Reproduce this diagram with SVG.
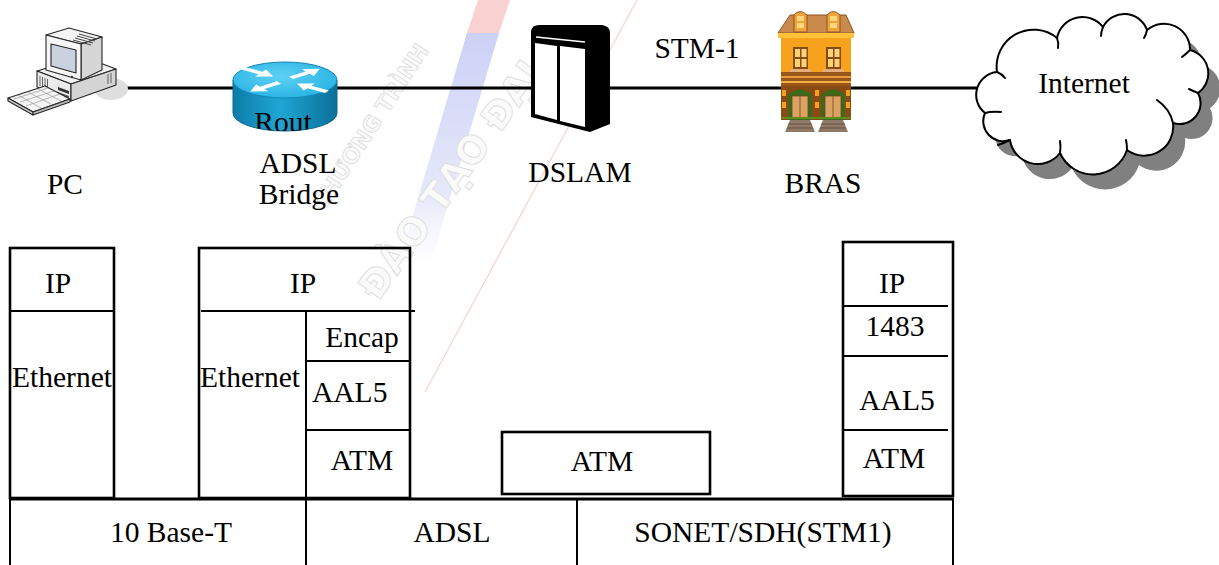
<svg xmlns="http://www.w3.org/2000/svg" xmlns:xlink="http://www.w3.org/1999/xlink" width="1219" height="565" viewBox="0 0 1219 565">
  <style>
    .lbl { font-family: "Liberation Serif", "Times New Roman", Times, "DejaVu Serif", serif; font-size: 29.5px; fill: #000; }
    .mid { text-anchor: middle; }
    .box { fill: none; stroke: #000; stroke-width: 2.6; }
    .thin { fill: none; stroke: #000; stroke-width: 2; }
    .wm { font-family: "DejaVu Sans", "Liberation Sans", sans-serif; font-weight: bold; fill: #fafafa; stroke: #dedede; stroke-width: 0.9; }
    .pcl { stroke: #262626; stroke-width: 1.1; stroke-linejoin: round; }
    .cloud { fill: #fff; stroke: #000; stroke-width: 2; stroke-linejoin: round; }
    .hook { fill: none; stroke: #000; stroke-width: 2; stroke-linecap: round; }
  </style>
  <defs>
    <linearGradient id="rtSide" x1="0" y1="0" x2="1" y2="0">
      <stop offset="0" stop-color="#0d7ca8"/>
      <stop offset="0.45" stop-color="#1fa6d4"/>
      <stop offset="1" stop-color="#0c6f99"/>
    </linearGradient>
    <radialGradient id="rtTop" cx="0.45" cy="0.4" r="0.7">
      <stop offset="0" stop-color="#5fd0f5"/>
      <stop offset="1" stop-color="#21b0e2"/>
    </radialGradient>
    <linearGradient id="bandFade" x1="0" y1="0" x2="0" y2="1">
      <stop offset="0" stop-color="#c6cbf5" stop-opacity="0.9"/>
      <stop offset="0.7" stop-color="#d2d5f6" stop-opacity="0.55"/>
      <stop offset="1" stop-color="#e4e6fa" stop-opacity="0"/>
    </linearGradient>
    <clipPath id="rtClip">
      <path d="M233,80 L233,113 A52,18 0 0 0 337,113 L337,80 Z"/>
    </clipPath>
    <path id="rtArrow" d="M0,-3.5 L21,-3.5 L21,-10 L36,0 L21,10 L21,3.5 L0,3.5 Z" fill="#fff"/>
    <path id="cloudShape" d="M985,113 A23,23 0 0 1 997,72 A37,37 0 0 1 1057,38 A26,26 0 0 1 1103,27 A24,24 0 0 1 1147,30 A26,26 0 0 1 1190,50 A24,24 0 0 1 1198,93 A21,21 0 0 1 1173,123 A29,29 0 0 1 1127,150 A36,36 0 0 1 1060,153 A28,28 0 0 1 1010,140 A20,20 0 0 1 985,113 Z"/>
  </defs>

  <!-- faint background watermark -->
  <g id="watermark">
    <polygon points="478,0 510,0 499,33 467,33" fill="#f8c6c6" opacity="0.8"/>
    <polygon points="467,33 499,33 430,265 398,265" fill="url(#bandFade)"/>
    <line x1="637" y1="0" x2="425" y2="392" stroke="#f4d6d6" stroke-width="1.3"/>
    <text class="wm" font-size="22" transform="translate(324,212) rotate(-57)">CHƯƠNG TRÌNH</text>
    <text class="wm" font-size="38" transform="translate(378,302) rotate(-54)">ĐÀO TẠO ĐẠI</text>
  </g>

  <!-- network links -->
  <g id="connectors">
    <line x1="122" y1="88" x2="978" y2="88" stroke="#000" stroke-width="3.2"/>
    <text class="lbl mid" x="697" y="58">STM-1</text>
  </g>

  <!-- PC -->
  <g id="pc">
    <ellipse cx="111" cy="89" rx="17" ry="11" fill="#dedede"/>
    <!-- base unit -->
    <polygon class="pcl" points="37,71 84,57 116,69 71,84" fill="#f2f2f2"/>
    <polygon class="pcl" points="37,71 71,84 71,101 37,87" fill="#ececec"/>
    <polygon class="pcl" points="71,84 116,69 116,85 71,101" fill="#d4d4d4"/>
    <g stroke="#555" stroke-width="0.9">
      <line x1="40" y1="76" x2="40" y2="86"/>
      <line x1="42.5" y1="77" x2="42.5" y2="87"/>
      <line x1="45" y1="78" x2="45" y2="88"/>
      <line x1="47.5" y1="79" x2="47.5" y2="89"/>
      <line x1="108" y1="74" x2="108" y2="84"/>
      <line x1="111" y1="73" x2="111" y2="83"/>
    </g>
    <polygon points="58,87 69,91 69,94 58,90" fill="#333"/>
    <polygon points="58,92 69,96 69,98 58,94" fill="#555"/>
    <!-- monitor -->
    <polygon class="pcl" points="46,35 69,28 102,37 81,44" fill="#f4f4f4"/>
    <polygon class="pcl" points="81,44 102,37 102,70 81,80" fill="#d6d6d6"/>
    <polygon class="pcl" points="46,35 81,44 81,80 46,70" fill="#f7f7f7"/>
    <polygon class="pcl" points="51,44 76,50 76,73 51,66" fill="#c9d2de"/>
    <g stroke="#444" stroke-width="1">
      <line x1="79" y1="34" x2="97" y2="39"/>
      <line x1="77" y1="36" x2="95" y2="41"/>
      <line x1="75" y1="38" x2="93" y2="43"/>
      <line x1="73" y1="40" x2="91" y2="45"/>
    </g>
    <circle cx="72" cy="77" r="1.2" fill="#333"/>
    <!-- keyboard -->
    <polygon class="pcl" points="8,98 45,86 70,99 33,112" fill="#f4f4f4"/>
    <polygon class="pcl" points="8,98 33,112 33,115 8,101" fill="#cfcfcf"/>
    <polygon class="pcl" points="33,112 70,99 70,102 33,115" fill="#bdbdbd"/>
    <g stroke="#9a9a9a" stroke-width="0.7">
      <line x1="14" y1="99" x2="48" y2="88"/>
      <line x1="20" y1="102" x2="54" y2="91"/>
      <line x1="26" y1="106" x2="60" y2="94"/>
      <line x1="18" y1="95" x2="41" y2="108"/>
      <line x1="28" y1="92" x2="51" y2="104"/>
      <line x1="38" y1="89" x2="61" y2="101"/>
    </g>
    <text class="lbl mid" x="65" y="194">PC</text>
  </g>

  <!-- ADSL bridge (router symbol) -->
  <g id="adsl-bridge">
    <path d="M233,80 L233,113 A52,18 0 0 0 337,113 L337,80 Z" fill="url(#rtSide)" stroke="#0b6a92" stroke-width="1"/>
    <ellipse cx="285" cy="80" rx="52" ry="18" fill="url(#rtTop)" stroke="#1586b2" stroke-width="1"/>
    <g transform="translate(285,80) scale(1,0.42)">
      <use xlink:href="#rtArrow" transform="translate(-42,-28) rotate(33)"/>
      <use xlink:href="#rtArrow" transform="translate(6,-5) rotate(-37)"/>
      <use xlink:href="#rtArrow" transform="translate(-6,6) rotate(143)"/>
      <use xlink:href="#rtArrow" transform="translate(42,28) rotate(213)"/>
    </g>
    <text class="lbl mid" x="283" y="132" clip-path="url(#rtClip)">Rout</text>
    <text class="lbl mid" x="298" y="173">ADSL</text>
    <text class="lbl mid" x="299" y="204">Bridge</text>
  </g>

  <!-- DSLAM cabinet -->
  <g id="dslam">
    <path d="M531,31 Q532,25 539,25 L602,25 Q610,26 610,33 L610,124 L590,132 L531,117 Z" fill="#000"/>
    <polygon points="535,43 557,46 557,120 535,114" fill="#fff"/>
    <polygon points="560,46 585,49 585,127 560,121" fill="#fff"/>
    <line x1="536" y1="37" x2="585" y2="42" stroke="#fff" stroke-width="1.6"/>
    <text class="lbl mid" x="580" y="182">DSLAM</text>
  </g>

  <!-- BRAS (building) -->
  <g id="bras">
    <!-- roof -->
    <polygon points="790,15 846,15 854,33 778,33" fill="#c98a4b" stroke="#8a5526" stroke-width="1"/>
    <!-- dormers -->
    <path d="M794,32 L794,15 Q800,8 807,15 L807,32 Z" fill="#f0a33a" stroke="#8a5526" stroke-width="1"/>
    <rect x="797" y="16" width="7" height="5" fill="#ffd77c"/>
    <rect x="797" y="23" width="7" height="5" fill="#ffd77c"/>
    <path d="M827,32 L827,15 Q833,8 840,15 L840,32 Z" fill="#f0a33a" stroke="#8a5526" stroke-width="1"/>
    <rect x="830" y="16" width="7" height="5" fill="#ffd77c"/>
    <rect x="830" y="23" width="7" height="5" fill="#ffd77c"/>
    <!-- cornice and upper wall -->
    <rect x="778" y="33" width="76" height="5" fill="#ffc23a"/>
    <rect x="781" y="38" width="70" height="35" fill="#f7a21c"/>
    <rect x="793" y="47" width="15" height="22" fill="#8a4a14"/>
    <rect x="795" y="49" width="5" height="8" fill="#ffd27a"/>
    <rect x="801.5" y="49" width="5" height="8" fill="#ffd27a"/>
    <rect x="795" y="59" width="5" height="8" fill="#ffd27a"/>
    <rect x="801.5" y="59" width="5" height="8" fill="#ffd27a"/>
    <rect x="826" y="47" width="15" height="22" fill="#8a4a14"/>
    <rect x="828" y="49" width="5" height="8" fill="#ffd27a"/>
    <rect x="834.5" y="49" width="5" height="8" fill="#ffd27a"/>
    <rect x="828" y="59" width="5" height="8" fill="#ffd27a"/>
    <rect x="834.5" y="59" width="5" height="8" fill="#ffd27a"/>
    <rect x="790" y="69" width="21" height="3" fill="#e6ad7c"/>
    <rect x="823" y="69" width="21" height="3" fill="#e6ad7c"/>
    <!-- middle bands -->
    <rect x="781" y="72" width="70" height="14" fill="#9a5518"/>
    <rect x="781" y="76" width="70" height="2" fill="#e89a3a"/>
    <rect x="781" y="81" width="70" height="2" fill="#f2b04a"/>
    <!-- ground floor -->
    <rect x="781" y="86" width="70" height="34" fill="#8a4a14"/>
    <g fill="#f7a21c">
      <rect x="782" y="90" width="4" height="6"/>
      <rect x="782" y="102" width="4" height="6"/>
      <rect x="815" y="90" width="4" height="6"/>
      <rect x="815" y="102" width="4" height="6"/>
      <rect x="846" y="90" width="4" height="6"/>
      <rect x="846" y="102" width="4" height="6"/>
    </g>
    <path d="M788,120 L788,95 Q800,84 812,95 L812,120 Z" fill="#3a6a1a"/>
    <path d="M821,120 L821,95 Q833,84 845,95 L845,120 Z" fill="#3a6a1a"/>
    <rect x="792" y="96" width="16" height="22" fill="#dba265" stroke="#7a4414" stroke-width="0.8"/>
    <line x1="800" y1="96" x2="800" y2="118" stroke="#7a4414" stroke-width="0.8"/>
    <rect x="825" y="96" width="16" height="22" fill="#dba265" stroke="#7a4414" stroke-width="0.8"/>
    <line x1="833" y1="96" x2="833" y2="118" stroke="#7a4414" stroke-width="0.8"/>
    <rect x="781" y="117" width="70" height="2" fill="#5f8a1c"/>
    <!-- steps -->
    <polygon points="790,120 810,120 815,132 785,132" fill="#8f7a68"/>
    <polygon points="823,120 843,120 848,132 818,132" fill="#8f7a68"/>
    <g stroke="#5e4a3a" stroke-width="0.8">
      <line x1="788" y1="124" x2="812" y2="124"/>
      <line x1="787" y1="128" x2="813" y2="128"/>
      <line x1="821" y1="124" x2="845" y2="124"/>
      <line x1="820" y1="128" x2="846" y2="128"/>
    </g>
    <text class="lbl mid" x="823" y="193">BRAS</text>
  </g>

  <!-- Internet cloud -->
  <g id="internet">
    <use xlink:href="#cloudShape" transform="translate(12,15)" fill="#808080"/>
    <use xlink:href="#cloudShape" class="cloud"/>
    <path class="hook" d="M997,72 Q1002,74 1005,78"/>
    <path class="hook" d="M1057,38 Q1059,43 1058,48"/>
    <path class="hook" d="M1103,27 Q1101,32 1101,36"/>
    <path class="hook" d="M1147,30 Q1146,35 1144,38"/>
    <path class="hook" d="M1190,50 Q1186,54 1182,57"/>
    <path class="hook" d="M1198,93 Q1193,91 1189,89"/>
    <path class="hook" d="M1173,123 Q1170,109 1157,100"/>
    <path class="hook" d="M1127,150 Q1127,144 1126,140"/>
    <path class="hook" d="M1060,153 Q1061,146 1060,141"/>
    <path class="hook" d="M1010,140 Q1004,143 998,145"/>
    <path class="hook" d="M985,113 Q992,111 1001,112"/>
    <text class="lbl mid" x="1084" y="93">Internet</text>
  </g>

  <!-- PC protocol stack -->
  <g id="stack-pc">
    <rect class="box" x="10" y="248" width="104" height="250"/>
    <line class="thin" x1="10" y1="311" x2="114" y2="311"/>
    <text class="lbl mid" x="58" y="293">IP</text>
    <text class="lbl" x="12" y="387">Ethernet</text>
  </g>

  <!-- ADSL bridge protocol stack -->
  <g id="stack-bridge">
    <rect class="box" x="199" y="248" width="211" height="250"/>
    <line class="thin" x1="201" y1="311" x2="415" y2="311"/>
    <line class="thin" x1="306" y1="311" x2="306" y2="498"/>
    <line class="thin" x1="306" y1="361" x2="410" y2="361"/>
    <line class="thin" x1="305" y1="430" x2="410" y2="430"/>
    <text class="lbl mid" x="303" y="293">IP</text>
    <text class="lbl" x="200" y="387">Ethernet</text>
    <text class="lbl mid" x="362" y="347">Encap</text>
    <text class="lbl" x="312" y="402">AAL5</text>
    <text class="lbl mid" x="362" y="470">ATM</text>
  </g>

  <!-- DSLAM ATM layer -->
  <g id="stack-dslam">
    <rect class="box" x="502" y="432" width="208" height="62"/>
    <text class="lbl mid" x="602" y="471">ATM</text>
  </g>

  <!-- BRAS protocol stack -->
  <g id="stack-bras">
    <rect class="box" x="843" y="242" width="110" height="254"/>
    <line class="thin" x1="843" y1="306" x2="948" y2="306"/>
    <line class="thin" x1="843" y1="356" x2="948" y2="356"/>
    <line class="thin" x1="843" y1="430" x2="948" y2="430"/>
    <text class="lbl mid" x="892" y="293">IP</text>
    <text class="lbl mid" x="895" y="336">1483</text>
    <text class="lbl mid" x="897" y="410">AAL5</text>
    <text class="lbl mid" x="894" y="468">ATM</text>
  </g>

  <!-- physical layer row -->
  <g id="physical">
    <line x1="9" y1="499" x2="954" y2="499" stroke="#000" stroke-width="2.8"/>
    <line class="thin" x1="10" y1="499" x2="10" y2="565"/>
    <line class="thin" x1="306" y1="499" x2="306" y2="565"/>
    <line class="thin" x1="577" y1="499" x2="577" y2="565"/>
    <line class="thin" x1="953" y1="499" x2="953" y2="565"/>
    <text class="lbl mid" x="171" y="542">10 Base-T</text>
    <text class="lbl mid" x="452" y="542">ADSL</text>
    <text class="lbl mid" x="763" y="542">SONET/SDH(STM1)</text>
  </g>
</svg>
